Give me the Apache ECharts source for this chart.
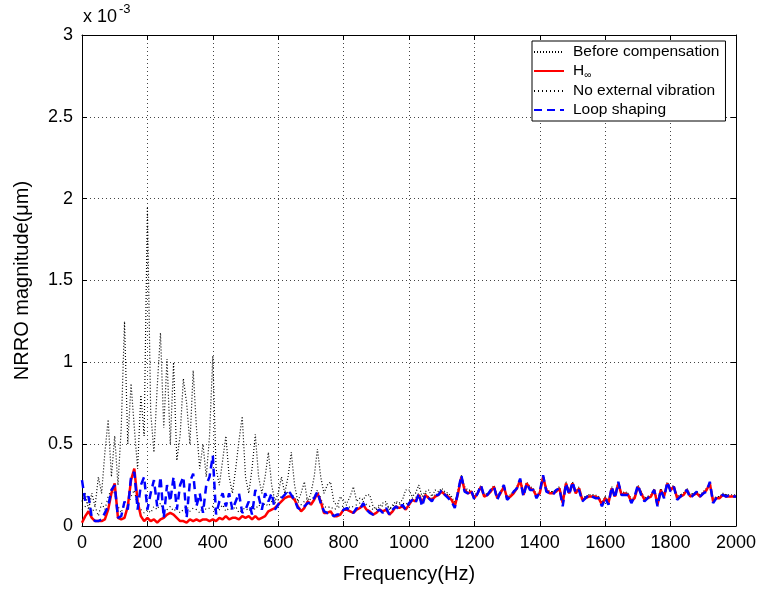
<!DOCTYPE html>
<html>
<head>
<meta charset="utf-8">
<script src="https://cdn.jsdelivr.net/npm/echarts@6/dist/echarts.min.js"></script>
<style>html,body{margin:0;padding:0;background:#fff}#c{width:762px;height:589px}</style>
</head>
<body>
<div id="c"></div>
<script>
// Frequency (Hz)
const freq = [
0,10,20,30,40,50,60,70,80,90,
100,110,120,130,140,150,160,170,180,190,
200,210,220,230,240,250,260,270,280,290,
300,310,320,330,340,350,360,370,380,390,
400,410,420,430,440,450,460,470,480,490,
500,510,520,530,540,550,560,570,580,590,
600,610,620,630,640,650,660,670,680,690,
700,710,720,730,740,750,760,770,780,790,
800,810,820,830,840,850,860,870,880,890,
900,910,920,930,940,950,960,970,980,990,
1000,1010,1020,1030,1040,1050,1060,1070,1080,1090,
1100,1110,1120,1130,1140,1150,1160,1170,1180,1190,
1200,1210,1220,1230,1240,1250,1260,1270,1280,1290,
1300,1310,1320,1330,1340,1350,1360,1370,1380,1390,
1400,1410,1420,1430,1440,1450,1460,1470,1480,1490,
1500,1510,1520,1530,1540,1550,1560,1570,1580,1590,
1600,1610,1620,1630,1640,1650,1660,1670,1680,1690,
1700,1710,1720,1730,1740,1750,1760,1770,1780,1790,
1800,1810,1820,1830,1840,1850,1860,1870,1880,1890,
1900,1910,1920,1930,1940,1950,1960,1970,1980,1990,
2000];

// NRRO magnitude (x 10^-3 um)
const beforeComp = [
0.15,0.20,0.10,0.20,0.12,0.30,0.20,0.45,0.65,0.30,
0.55,0.25,0.60,1.25,0.50,0.87,0.60,0.35,0.80,0.55,
1.95,0.70,0.45,0.85,1.18,0.60,1.02,0.50,1.00,0.40,
0.55,0.90,0.75,0.50,0.95,0.60,0.35,0.50,0.30,0.55,
1.04,0.35,0.25,0.40,0.55,0.30,0.20,0.35,0.52,0.67,
0.30,0.20,0.35,0.56,0.30,0.20,0.30,0.45,0.25,0.15,
0.20,0.30,0.20,0.30,0.45,0.25,0.15,0.20,0.27,0.15,
0.20,0.30,0.47,0.30,0.20,0.25,0.27,0.15,0.12,0.18,
0.15,0.14,0.18,0.24,0.15,0.17,0.16,0.19,0.19,0.12,
0.10,0.12,0.14,0.15,0.10,0.13,0.15,0.14,0.16,0.22,
0.22,0.18,0.20,0.25,0.18,0.21,0.22,0.18,0.22,0.21,
0.23,0.21,0.20,0.18,0.14,0.22,0.31,0.24,0.22,0.22,
0.18,0.21,0.25,0.19,0.20,0.22,0.25,0.18,0.21,0.25,
0.18,0.19,0.21,0.24,0.29,0.20,0.27,0.24,0.23,0.19,
0.21,0.31,0.23,0.21,0.21,0.22,0.24,0.15,0.27,0.21,
0.27,0.21,0.24,0.17,0.18,0.19,0.19,0.19,0.18,0.14,
0.18,0.15,0.24,0.19,0.27,0.20,0.21,0.20,0.16,0.18,
0.25,0.21,0.17,0.18,0.19,0.23,0.14,0.23,0.19,0.27,
0.23,0.25,0.18,0.19,0.20,0.23,0.19,0.20,0.21,0.19,
0.21,0.23,0.27,0.16,0.18,0.18,0.20,0.19,0.19,0.19,
0.19];

const hInf = [
0.02,0.06,0.09,0.05,0.03,0.03,0.03,0.04,0.10,0.20,
0.26,0.05,0.04,0.05,0.12,0.28,0.35,0.15,0.06,0.03,
0.05,0.03,0.04,0.02,0.04,0.05,0.07,0.08,0.07,0.05,
0.03,0.03,0.02,0.04,0.03,0.04,0.03,0.04,0.04,0.03,
0.04,0.03,0.05,0.04,0.06,0.04,0.05,0.05,0.04,0.06,
0.05,0.06,0.04,0.06,0.04,0.05,0.06,0.09,0.10,0.11,
0.13,0.15,0.17,0.18,0.18,0.16,0.12,0.09,0.11,0.15,
0.13,0.16,0.20,0.15,0.08,0.08,0.09,0.06,0.06,0.07,
0.10,0.10,0.09,0.08,0.10,0.11,0.13,0.10,0.09,0.07,
0.08,0.10,0.09,0.10,0.07,0.09,0.12,0.11,0.12,0.10,
0.13,0.16,0.15,0.19,0.14,0.19,0.17,0.16,0.18,0.19,
0.21,0.19,0.18,0.16,0.12,0.20,0.30,0.22,0.20,0.21,
0.17,0.20,0.24,0.18,0.19,0.21,0.24,0.17,0.20,0.24,
0.17,0.18,0.20,0.23,0.28,0.19,0.26,0.23,0.22,0.18,
0.20,0.30,0.22,0.20,0.20,0.21,0.23,0.14,0.26,0.20,
0.26,0.20,0.23,0.16,0.17,0.18,0.18,0.18,0.17,0.13,
0.17,0.14,0.23,0.18,0.26,0.19,0.20,0.19,0.15,0.17,
0.24,0.20,0.16,0.17,0.18,0.22,0.13,0.22,0.18,0.26,
0.22,0.24,0.17,0.18,0.19,0.22,0.18,0.19,0.20,0.18,
0.20,0.22,0.26,0.15,0.17,0.17,0.19,0.18,0.18,0.18,
0.18];

const noExtVib = [
0.10,0.12,0.16,0.08,0.12,0.06,0.14,0.10,0.18,0.22,
0.20,0.12,0.08,0.14,0.12,0.18,0.22,0.12,0.10,0.08,
0.10,0.08,0.12,0.10,0.14,0.08,0.10,0.12,0.09,0.11,
0.08,0.10,0.12,0.09,0.11,0.10,0.08,0.12,0.10,0.11,
0.12,0.08,0.10,0.13,0.09,0.11,0.10,0.12,0.08,0.10,
0.11,0.09,0.12,0.10,0.13,0.11,0.14,0.12,0.15,0.14,
0.16,0.18,0.19,0.21,0.20,0.17,0.15,0.13,0.15,0.17,
0.16,0.18,0.22,0.17,0.12,0.11,0.12,0.10,0.11,0.12,
0.12,0.13,0.11,0.12,0.13,0.14,0.15,0.13,0.12,0.10,
0.11,0.13,0.12,0.13,0.10,0.12,0.14,0.13,0.14,0.13,
0.15,0.17,0.17,0.20,0.16,0.20,0.18,0.17,0.19,0.20,
0.22,0.20,0.19,0.17,0.13,0.21,0.30,0.23,0.21,0.22,
0.18,0.21,0.24,0.19,0.20,0.22,0.24,0.18,0.21,0.24,
0.18,0.19,0.21,0.23,0.28,0.20,0.26,0.23,0.22,0.19,
0.21,0.30,0.22,0.21,0.21,0.22,0.23,0.15,0.26,0.21,
0.26,0.21,0.23,0.17,0.18,0.19,0.19,0.18,0.18,0.14,
0.18,0.15,0.23,0.19,0.26,0.20,0.20,0.20,0.16,0.18,
0.24,0.21,0.17,0.18,0.19,0.22,0.14,0.22,0.19,0.26,
0.22,0.24,0.18,0.19,0.20,0.22,0.19,0.20,0.20,0.19,
0.20,0.22,0.26,0.16,0.18,0.18,0.19,0.19,0.18,0.18,
0.18];

const loopShaping = [
0.28,0.15,0.18,0.05,0.03,0.03,0.04,0.08,0.12,0.22,
0.25,0.05,0.06,0.15,0.10,0.30,0.33,0.10,0.25,0.30,
0.10,0.20,0.28,0.12,0.30,0.05,0.25,0.15,0.30,0.10,
0.25,0.30,0.05,0.27,0.32,0.12,0.20,0.08,0.25,0.30,
0.43,0.07,0.15,0.20,0.12,0.20,0.10,0.15,0.20,0.08,
0.10,0.15,0.07,0.22,0.18,0.10,0.20,0.15,0.20,0.10,
0.13,0.17,0.19,0.22,0.19,0.16,0.11,0.10,0.12,0.14,
0.14,0.17,0.21,0.14,0.09,0.08,0.08,0.06,0.07,0.07,
0.10,0.11,0.09,0.08,0.11,0.10,0.14,0.10,0.08,0.07,
0.09,0.10,0.08,0.11,0.07,0.10,0.12,0.10,0.13,0.10,
0.14,0.16,0.14,0.20,0.12,0.19,0.17,0.15,0.19,0.19,
0.22,0.19,0.17,0.15,0.11,0.21,0.31,0.21,0.20,0.22,
0.16,0.20,0.25,0.18,0.19,0.22,0.24,0.16,0.21,0.25,
0.16,0.18,0.21,0.23,0.29,0.18,0.26,0.22,0.22,0.17,
0.21,0.31,0.21,0.20,0.19,0.22,0.23,0.12,0.26,0.19,
0.27,0.20,0.22,0.15,0.17,0.19,0.18,0.17,0.17,0.12,
0.17,0.13,0.24,0.17,0.27,0.19,0.19,0.19,0.14,0.18,
0.25,0.19,0.15,0.17,0.19,0.22,0.12,0.22,0.17,0.27,
0.21,0.24,0.16,0.18,0.20,0.22,0.17,0.19,0.21,0.18,
0.20,0.21,0.27,0.14,0.17,0.18,0.19,0.18,0.19,0.18,
0.18];

const seriesNames = ['Before compensation', 'H\u221E', 'No external vibration', 'Loop shaping'];
const xTicks = [0,200,400,600,800,1000,1200,1400,1600,1800,2000];
const yTicks = [0,0.5,1,1.5,2,2.5,3];

const FONT = 'Liberation Sans, Arial, Helvetica, sans-serif';
const pairs = v => freq.map((f, i) => [f, v[i]]);

const chart = echarts.init(document.getElementById('c'), null, {renderer: 'canvas'});
const gridDash = {color: '#444', width: 1, type: [1, 3]};
const tickStyle = {show: true, inside: true, length: 5, lineStyle: {color: '#000'}};
const lineAx = {show: true, onZero: false, lineStyle: {color: '#000', width: 1}};

chart.setOption({
  animation: false,
  backgroundColor: '#fff',
  grid: {left: 82, right: 26, top: 35, bottom: 59, containLabel: false},
  xAxis: [{
    type: 'value', min: xTicks[0], max: xTicks[xTicks.length - 1], interval: 200,
    name: 'Frequency(Hz)', nameLocation: 'middle', nameGap: 38,
    nameTextStyle: {fontFamily: FONT, fontSize: 20, color: '#000'},
    axisLine: lineAx, axisTick: tickStyle,
    axisLabel: {fontFamily: FONT, fontSize: 18, color: '#000', margin: 8, formatter: v => String(v)},
    splitLine: {show: true, lineStyle: gridDash}
  }, {
    type: 'value', position: 'top', min: xTicks[0], max: xTicks[xTicks.length - 1], interval: 200,
    axisLine: lineAx, axisTick: tickStyle,
    axisLabel: {show: false}, splitLine: {show: false}
  }],
  yAxis: [{
    type: 'value', min: yTicks[0], max: yTicks[yTicks.length - 1], interval: 0.5,
    name: 'NRRO magnitude(\u03BCm)', nameLocation: 'middle', nameGap: 50, nameRotate: 90,
    nameTextStyle: {fontFamily: FONT, fontSize: 20, color: '#000'},
    axisLine: lineAx, axisTick: tickStyle,
    axisLabel: {fontFamily: FONT, fontSize: 18, color: '#000', margin: 9, formatter: v => String(v)},
    splitLine: {show: true, lineStyle: gridDash}
  }, {
    type: 'value', position: 'right', min: yTicks[0], max: yTicks[yTicks.length - 1], interval: 0.5,
    axisLine: lineAx, axisTick: tickStyle,
    axisLabel: {show: false}, splitLine: {show: false}
  }],
  legend: {
    data: seriesNames,
    orient: 'vertical', left: 532, top: 41,
    padding: [3, 6, 3, 1], itemGap: 3, itemWidth: 30, itemHeight: 14,
    backgroundColor: '#fff', borderColor: '#000', borderWidth: 1,
    itemStyle: {opacity: 0, borderWidth: 0},
    textStyle: {fontFamily: FONT, fontSize: 15.5, color: '#000', lineHeight: 16, padding: [0, 0, 0, 4],
      rich: {
        h: {fontFamily: FONT, fontSize: 15.5, color: '#000'},
        s: {fontFamily: FONT, fontSize: 10, color: '#000', padding: [8, 0, 0, 0]}
      }},
    formatter: n => n === 'H\u221E' ? '{h|H}{s|\u221E}' : n
  },
  graphic: [
    {type: 'text', left: 83, top: 8, style: {text: 'x 10', font: '18px ' + FONT, fill: '#000'}},
    {type: 'text', left: 119, top: 3, style: {text: '-3', font: '13px ' + FONT, fill: '#000'}}
  ],
  series: [
    {name: seriesNames[0], type: 'line', data: pairs(beforeComp), symbol: 'none', z: 2,
     lineStyle: {color: '#000', width: 1.2, type: [1, 2]}, itemStyle: {color: '#000'}},
    {name: seriesNames[1], type: 'line', data: pairs(hInf), symbol: 'none', z: 4,
     lineStyle: {color: '#ff0000', width: 2.5, type: 'solid'}, itemStyle: {color: '#ff0000'}},
    {name: seriesNames[2], type: 'line', data: pairs(noExtVib), symbol: 'none', z: 3,
     lineStyle: {color: '#000', width: 1.2, type: [1, 3]}, itemStyle: {color: '#000'}},
    {name: seriesNames[3], type: 'line', data: pairs(loopShaping), symbol: 'none', z: 5,
     lineStyle: {color: '#0000ff', width: 2.5, type: [8, 5]}, itemStyle: {color: '#0000ff'}}
  ]
});
</script>
</body>
</html>
